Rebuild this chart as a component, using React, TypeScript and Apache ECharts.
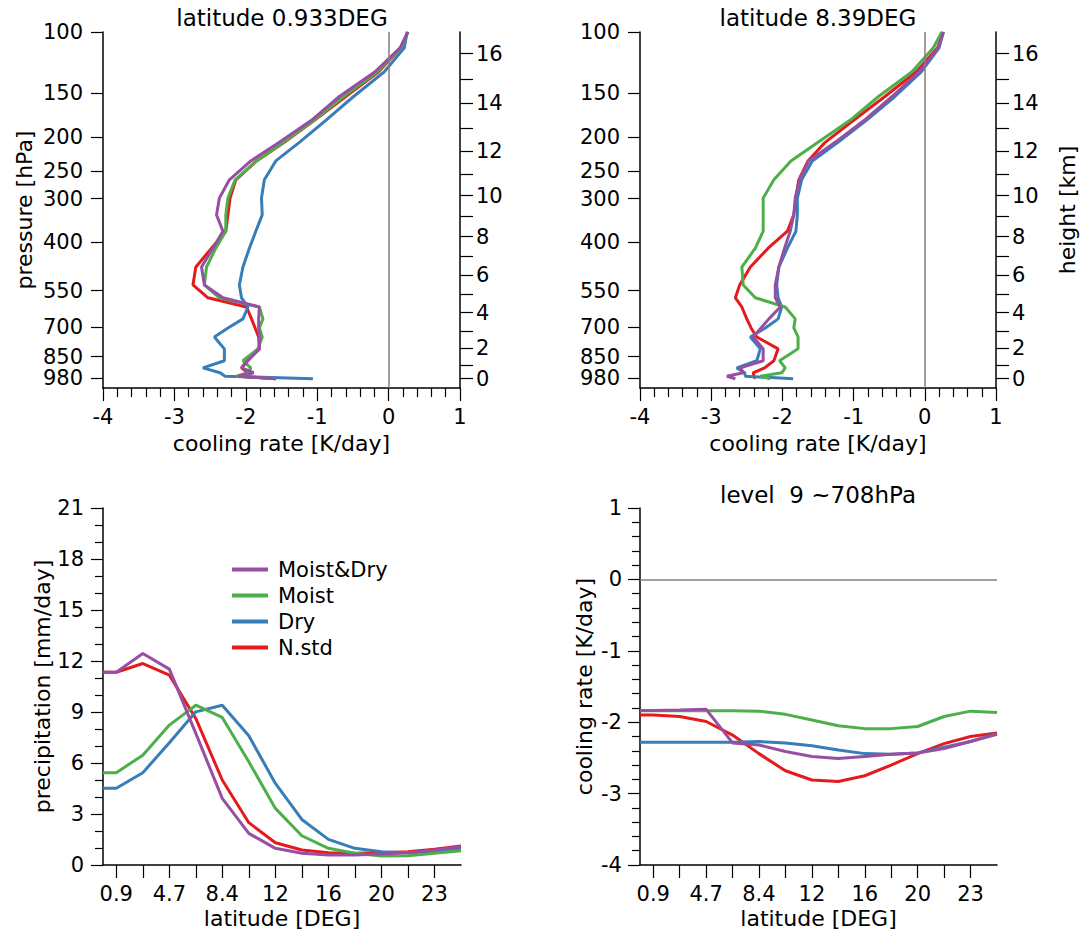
import React, { useEffect, useRef } from 'react';
import * as echarts from 'echarts';

const FONT = 'DejaVu Sans';
const BLACK = '#000000';
const GRAY = '#808080';
const C_MOISTDRY = '#984ea3';
const C_MOIST = '#4daf4a';
const C_DRY = '#377eb8';
const C_NSTD = '#e41a1c';

const seriesNames = ['Moist&Dry', 'Moist', 'Dry', 'N.std'];

// model pressure levels [hPa] of the profiles (top to surface)
const pressureLevels = [100, 111, 130, 153, 179, 207, 234, 265, 299, 334, 372, 416, 471, 530, 577, 613, 663, 704, 747, 808, 874, 916, 946, 968, 984];

// cooling rate profiles [K/day], latitude 0.933DEG
const tlMoistDry = [0.27, 0.16, -0.19, -0.69, -1.08, -1.53, -1.93, -2.23, -2.37, -2.41, -2.32, -2.46, -2.62, -2.58, -2.32, -1.81, -1.82, -1.82, -1.81, -1.81, -1.97, -2.06, -1.89, -2.11, -1.58];
const tlMoist = [0.27, 0.17, -0.16, -0.63, -1.05, -1.47, -1.85, -2.15, -2.25, -2.28, -2.28, -2.42, -2.55, -2.58, -2.37, -1.81, -1.76, -1.81, -1.77, -1.83, -2.04, -1.93, -1.97, -2.13, -1.58];
const tlDry = [0.26, 0.22, -0.06, -0.49, -0.88, -1.25, -1.58, -1.74, -1.78, -1.77, -1.86, -1.95, -2.04, -2.09, -2.06, -1.97, -2.04, -2.25, -2.44, -2.30, -2.30, -2.60, -2.36, -2.29, -1.06];
const tlNstd = [0.27, 0.17, -0.14, -0.60, -1.04, -1.46, -1.85, -2.14, -2.22, -2.25, -2.28, -2.48, -2.70, -2.74, -2.53, -1.99, -1.92, -1.87, -1.82, -1.81, -1.98, -2.06, -1.97, -2.09, -1.58];

// cooling rate profiles [K/day], latitude 8.39DEG
const trMoistDry = [0.26, 0.19, -0.08, -0.46, -0.85, -1.26, -1.63, -1.76, -1.82, -1.84, -1.89, -1.97, -2.05, -2.10, -2.10, -2.03, -2.19, -2.30, -2.41, -2.27, -2.27, -2.59, -2.55, -2.78, -2.66];
const trMoist = [0.24, 0.12, -0.18, -0.65, -1.05, -1.50, -1.88, -2.12, -2.27, -2.27, -2.27, -2.38, -2.57, -2.55, -2.38, -1.96, -1.82, -1.84, -1.78, -1.78, -2.04, -1.96, -2.01, -2.31, -2.17];
const trDry = [0.26, 0.20, -0.05, -0.42, -0.82, -1.22, -1.58, -1.73, -1.79, -1.79, -1.81, -1.93, -2.05, -2.08, -2.06, -2.01, -2.06, -2.24, -2.45, -2.31, -2.36, -2.64, -2.53, -2.52, -1.85];
const trNstd = [0.26, 0.18, -0.12, -0.56, -1.00, -1.40, -1.64, -1.77, -1.81, -1.84, -1.93, -2.20, -2.45, -2.60, -2.66, -2.57, -2.50, -2.44, -2.36, -2.06, -2.12, -2.25, -2.41, -2.40, -2.38];

// pressure axis tick labels
const pressureTicks = [100, 150, 200, 250, 300, 400, 550, 700, 850, 980];
// height axis: km and the pressure [hPa] at each km
const heightKm = [0, 1, 2, 3, 4, 5, 6, 7, 8, 9, 10, 11, 12, 13, 14, 15, 16];
const heightPressure = [984, 899.5, 804.2, 717.7, 636.1, 563.6, 497.5, 439.9, 385.8, 338.1, 294.4, 254.7, 219.4, 188.2, 160.2, 136.6, 115.3];

// latitude grid [DEG]
const latitudes = [0, 0.933, 2.8, 4.67, 6.53, 8.39, 10.26, 12.13, 13.99, 15.86, 17.72, 19.59, 21.46, 23.32, 25.19];
const latTicks = [0.933, 2.8, 4.67, 6.53, 8.39, 10.26, 12.13, 13.99, 15.86, 17.72, 19.59, 21.46, 23.32];
const latLabelValues = [0.933, 4.67, 8.39, 12.13, 15.86, 19.59, 23.32];
const latLabelTexts = ['0.9', '4.7', '8.4', '12', '16', '20', '23'];

// precipitation [mm/day]
const precipMoistDry = [11.34, 11.34, 12.44, 11.52, 7.74, 3.92, 1.86, 0.98, 0.69, 0.59, 0.59, 0.65, 0.72, 0.88, 1.08];
const precipMoist = [5.43, 5.43, 6.46, 8.23, 9.40, 8.68, 6.07, 3.33, 1.72, 0.98, 0.69, 0.53, 0.55, 0.69, 0.84];
const precipDry = [4.51, 4.51, 5.43, 7.19, 9.01, 9.40, 7.60, 4.80, 2.68, 1.51, 0.98, 0.78, 0.72, 0.78, 0.98];
const precipNstd = [11.34, 11.34, 11.85, 11.17, 8.62, 5.00, 2.49, 1.31, 0.88, 0.72, 0.69, 0.72, 0.78, 0.92, 1.12];

// cooling rate at level 9 (~708hPa) [K/day]
const coolMoistDry = [-1.836, -1.836, -1.83, -1.82, -2.29, -2.32, -2.41, -2.48, -2.51, -2.48, -2.45, -2.43, -2.37, -2.27, -2.17];
const coolMoist = [-1.84, -1.84, -1.84, -1.84, -1.84, -1.845, -1.89, -1.97, -2.05, -2.09, -2.09, -2.06, -1.92, -1.845, -1.864];
const coolDry = [-2.28, -2.28, -2.28, -2.28, -2.28, -2.27, -2.29, -2.33, -2.39, -2.44, -2.45, -2.43, -2.35, -2.27, -2.16];
const coolNstd = [-1.90, -1.90, -1.92, -1.99, -2.18, -2.44, -2.68, -2.81, -2.83, -2.75, -2.60, -2.44, -2.30, -2.20, -2.15];

const labelStyle = { color: BLACK, fontSize: 21, fontFamily: FONT };
const nameStyle = { color: BLACK, fontSize: 22, fontFamily: FONT };
const axisLine = { show: true, onZero: false, lineStyle: { color: BLACK, width: 1.5 } };
const tickLine = { color: BLACK, width: 1.2 };

function lineSeries(name: string, color: string, data: number[][], xi: number, yi: number) {
  return {
    type: 'line',
    name,
    xAxisIndex: xi,
    yAxisIndex: yi,
    data,
    symbol: 'none',
    showSymbol: false,
    silent: true,
    color,
    itemStyle: { color },
    lineStyle: { color, width: 3 },
  };
}

function refLine(xi: number, yi: number, point: number[], mark: any) {
  return {
    type: 'line',
    xAxisIndex: xi,
    yAxisIndex: yi,
    data: [point],
    symbol: 'none',
    silent: true,
    lineStyle: { opacity: 0 },
    markLine: {
      silent: true,
      symbol: 'none',
      label: { show: false },
      lineStyle: { color: GRAY, width: 1.5, type: 'solid' },
      data: [mark],
    },
  };
}

function profile(vals: number[]) {
  return pressureLevels.map((p, i) => [vals[i], p]);
}
function byLat(vals: number[]) {
  return latitudes.map((l, i) => [l, vals[i]]);
}

function heightLabel(v: number) {
  const i = heightPressure.findIndex((p) => Math.abs(p - v) < 0.5);
  return i >= 0 ? String(heightKm[i]) : '';
}
function latLabel(v: number) {
  const i = latLabelValues.findIndex((l) => Math.abs(l - v) < 0.01);
  return i >= 0 ? latLabelTexts[i] : '';
}

function profileXAxis(g: number) {
  return {
    type: 'value',
    gridIndex: g,
    min: -4,
    max: 1,
    interval: 1,
    position: 'bottom',
    axisLine,
    axisTick: { show: true, length: 13, lineStyle: tickLine },
    minorTick: { show: true, splitNumber: 5, length: 9, lineStyle: tickLine },
    axisLabel: { ...labelStyle, margin: 18 },
    splitLine: { show: false },
    minorSplitLine: { show: false },
    name: 'cooling rate [K/day]',
    nameLocation: 'middle',
    nameGap: 44,
    nameTextStyle: nameStyle,
  };
}

function pressureAxis(g: number, withName: boolean) {
  return {
    type: 'log',
    logBase: 10,
    gridIndex: g,
    inverse: true,
    min: 100,
    max: 1046,
    position: 'left',
    axisLine,
    axisTick: { show: true, length: 12, lineStyle: tickLine, customValues: pressureTicks },
    axisLabel: { ...labelStyle, margin: 20, customValues: pressureTicks, formatter: (v: number) => String(Math.round(v)) },
    splitLine: { show: false },
    name: withName ? 'pressure [hPa]' : '',
    nameLocation: 'middle',
    nameGap: 68,
    nameRotate: 90,
    nameTextStyle: nameStyle,
  };
}

function heightAxis(g: number, withName: boolean) {
  const evenP = heightPressure.filter((_, i) => heightKm[i] % 2 === 0);
  return {
    type: 'log',
    logBase: 10,
    gridIndex: g,
    inverse: true,
    min: 100,
    max: 1046,
    position: 'right',
    axisLine,
    axisTick: { show: true, length: 13, lineStyle: tickLine, customValues: heightPressure },
    axisLabel: { ...labelStyle, margin: 16, customValues: evenP, formatter: heightLabel },
    splitLine: { show: false },
    name: withName ? 'height [km]' : '',
    nameLocation: 'middle',
    nameGap: 60,
    nameRotate: 90,
    nameTextStyle: nameStyle,
  };
}

function latAxis(g: number) {
  return {
    type: 'value',
    gridIndex: g,
    min: 0,
    max: 25.19,
    position: 'bottom',
    axisLine,
    axisTick: { show: true, length: 13, lineStyle: tickLine, customValues: latTicks },
    axisLabel: { ...labelStyle, margin: 18, customValues: latLabelValues, formatter: latLabel },
    splitLine: { show: false },
    name: 'latitude [DEG]',
    nameLocation: 'middle',
    nameGap: 42,
    nameTextStyle: nameStyle,
  };
}

function buildOption() {
  const grids = [
    { left: 103, top: 32, width: 357, height: 356 },
    { left: 640, top: 32, width: 356, height: 356 },
    { left: 103, top: 508, width: 358, height: 357 },
    { left: 640, top: 508, width: 357, height: 357 },
  ].map((g) => ({ ...g, containLabel: false, outerBoundsMode: 'none', show: false }));

  const xAxis = [profileXAxis(0), profileXAxis(1), latAxis(2), latAxis(3)];
  const yAxis = [
    pressureAxis(0, true),
    heightAxis(0, false),
    pressureAxis(1, false),
    heightAxis(1, true),
    {
      type: 'value',
      gridIndex: 2,
      min: 0,
      max: 21,
      interval: 3,
      position: 'left',
      axisLine,
      axisTick: { show: true, length: 12, lineStyle: tickLine },
      minorTick: { show: true, splitNumber: 3, length: 8, lineStyle: tickLine },
      axisLabel: { ...labelStyle, margin: 19 },
      splitLine: { show: false },
      minorSplitLine: { show: false },
      name: 'precipitation [mm/day]',
      nameLocation: 'middle',
      nameGap: 48,
      nameRotate: 90,
      nameTextStyle: nameStyle,
    },
    {
      type: 'value',
      gridIndex: 3,
      min: -4,
      max: 1,
      interval: 1,
      position: 'left',
      axisLine,
      axisTick: { show: true, length: 12, lineStyle: tickLine },
      minorTick: { show: true, splitNumber: 5, length: 8, lineStyle: tickLine },
      axisLabel: { ...labelStyle, margin: 18 },
      splitLine: { show: false },
      minorSplitLine: { show: false },
      name: 'cooling rate [K/day]',
      nameLocation: 'middle',
      nameGap: 45,
      nameRotate: 90,
      nameTextStyle: nameStyle,
    },
  ];

  const series: any[] = [
    refLine(0, 0, [0, 100], { xAxis: 0 }),
    lineSeries('N.std', C_NSTD, profile(tlNstd), 0, 0),
    lineSeries('Dry', C_DRY, profile(tlDry), 0, 0),
    lineSeries('Moist', C_MOIST, profile(tlMoist), 0, 0),
    lineSeries('Moist&Dry', C_MOISTDRY, profile(tlMoistDry), 0, 0),

    refLine(1, 2, [0, 100], { xAxis: 0 }),
    lineSeries('N.std', C_NSTD, profile(trNstd), 1, 2),
    lineSeries('Dry', C_DRY, profile(trDry), 1, 2),
    lineSeries('Moist', C_MOIST, profile(trMoist), 1, 2),
    lineSeries('Moist&Dry', C_MOISTDRY, profile(trMoistDry), 1, 2),

    lineSeries('N.std', C_NSTD, byLat(precipNstd), 2, 4),
    lineSeries('Dry', C_DRY, byLat(precipDry), 2, 4),
    lineSeries('Moist', C_MOIST, byLat(precipMoist), 2, 4),
    lineSeries('Moist&Dry', C_MOISTDRY, byLat(precipMoistDry), 2, 4),

    refLine(3, 5, [0, 0], { yAxis: 0 }),
    lineSeries('N.std', C_NSTD, byLat(coolNstd), 3, 5),
    lineSeries('Dry', C_DRY, byLat(coolDry), 3, 5),
    lineSeries('Moist', C_MOIST, byLat(coolMoist), 3, 5),
    lineSeries('Moist&Dry', C_MOISTDRY, byLat(coolMoistDry), 3, 5),
  ];

  const titleStyle = { fontSize: 23, fontFamily: FONT, fill: BLACK, align: 'center', verticalAlign: 'middle' };

  return {
    animation: false,
    backgroundColor: '#ffffff',
    grid: grids,
    xAxis,
    yAxis,
    legend: {
      data: seriesNames,
      orient: 'vertical',
      left: 232,
      top: 559,
      itemWidth: 36,
      itemHeight: 4,
      itemGap: 5,
      icon: 'rect',
      selectedMode: false,
      padding: 0,
      textStyle: { color: BLACK, fontSize: 21, fontFamily: FONT, padding: [0, 0, 0, 5] },
    },
    graphic: [
      { type: 'text', x: 282, y: 17.5, silent: true, style: { text: 'latitude 0.933DEG', ...titleStyle } },
      { type: 'text', x: 818, y: 17.5, silent: true, style: { text: 'latitude 8.39DEG', ...titleStyle } },
      { type: 'text', x: 818, y: 494.5, silent: true, style: { text: 'level  9 ~708hPa', ...titleStyle } },
    ],
    series,
  };
}

export default function App() {
  const ref = useRef<HTMLDivElement>(null);
  useEffect(() => {
    const chart = echarts.init(ref.current as HTMLDivElement, null, { renderer: 'svg' });
    chart.setOption(buildOption() as any);
    return () => chart.dispose();
  }, []);
  return (
    <div
      ref={ref}
      style={{ position: 'fixed', left: 0, top: 0, width: 1084, height: 935, background: '#ffffff' }}
    />
  );
}
